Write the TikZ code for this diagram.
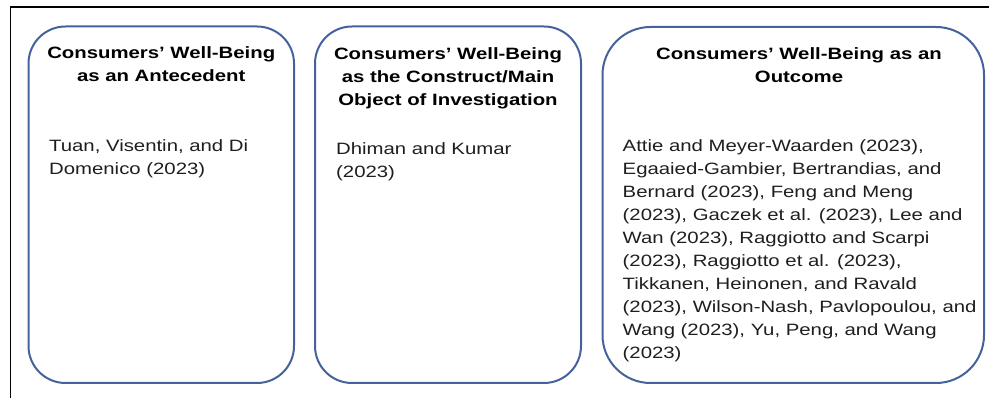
\documentclass[tikz,border=0pt]{standalone}
\usepackage{fontspec}
\setmainfont{Liberation Sans}[FakeStretch=1.24]
\usepackage{tikz}
\usepackage{xcolor}

\definecolor{cardblue}{RGB}{68,98,156}
\definecolor{reftext}{RGB}{30,30,30}

\begin{document}
\begin{tikzpicture}[
    x=1pt, y=1pt,
    card/.style={
      draw=cardblue,
      line width=2pt,
      rectangle,
      inner sep=0pt
    },
    head/.style={
      anchor=base,
      align=center,
      inner sep=0pt,
      font=\fontsize{16.4}{23}\selectfont\bfseries
    },
    refs/.style={
      anchor=base west,
      align=left,
      inner sep=0pt,
      text=reftext,
      font=\fontsize{16.4}{23}\selectfont
    }
  ]

    \useasboundingbox (0,0) rectangle (989,398);

    % Rahmen
    \draw[line width=1.1pt] (989,391) -- (10.5,391) -- (10.5,0);

    % Kaesten
    \node[card, rounded corners=37pt, minimum width=265.5pt, minimum height=356.5pt]
      (antecedent) at (161.25,193.25) {};

    \node[card, rounded corners=37pt, minimum width=266pt, minimum height=356.5pt]
      (construct) at (448,193.25) {};

    \node[card, rounded corners=48pt, minimum width=381.5pt, minimum height=356pt]
      (outcome) at (793.25,193) {};

    % Ueberschriften (base = Grundlinie der letzten Zeile)
    \node[head] (antecedenthead) at (161.25,316.5)
      {Consumers’ Well-Being\\as an Antecedent};

    \node[head] (constructhead) at (448,292.5)
      {Consumers’ Well-Being\\as the Construct/Main\\Object of Investigation};

    \node[head] (outcomehead) at (799,315.5)
      {Consumers’ Well-Being as an\\Outcome};

    % Literatur
    \node[refs] (antecedentrefs) at (49,223)
      {Tuan, Visentin, and Di\\Domenico (2023)};

    \node[refs] (constructrefs) at (336,220)
      {Dhiman and Kumar\\(2023)};

    \node[refs] (outcomerefs) at (622.5,39.3)
      {Attie and Meyer-Waarden (2023),\\
       Egaaied-Gambier, Bertrandias, and\\
       Bernard (2023), Feng and Meng\\
       (2023), Gaczek et al. (2023), Lee and\\
       Wan (2023), Raggiotto and Scarpi\\
       (2023), Raggiotto et al. (2023),\\
       Tikkanen, Heinonen, and Ravald\\
       (2023), Wilson-Nash, Pavlopoulou, and\\
       Wang (2023), Yu, Peng, and Wang\\
       (2023)};

  \end{tikzpicture}
\end{document}
